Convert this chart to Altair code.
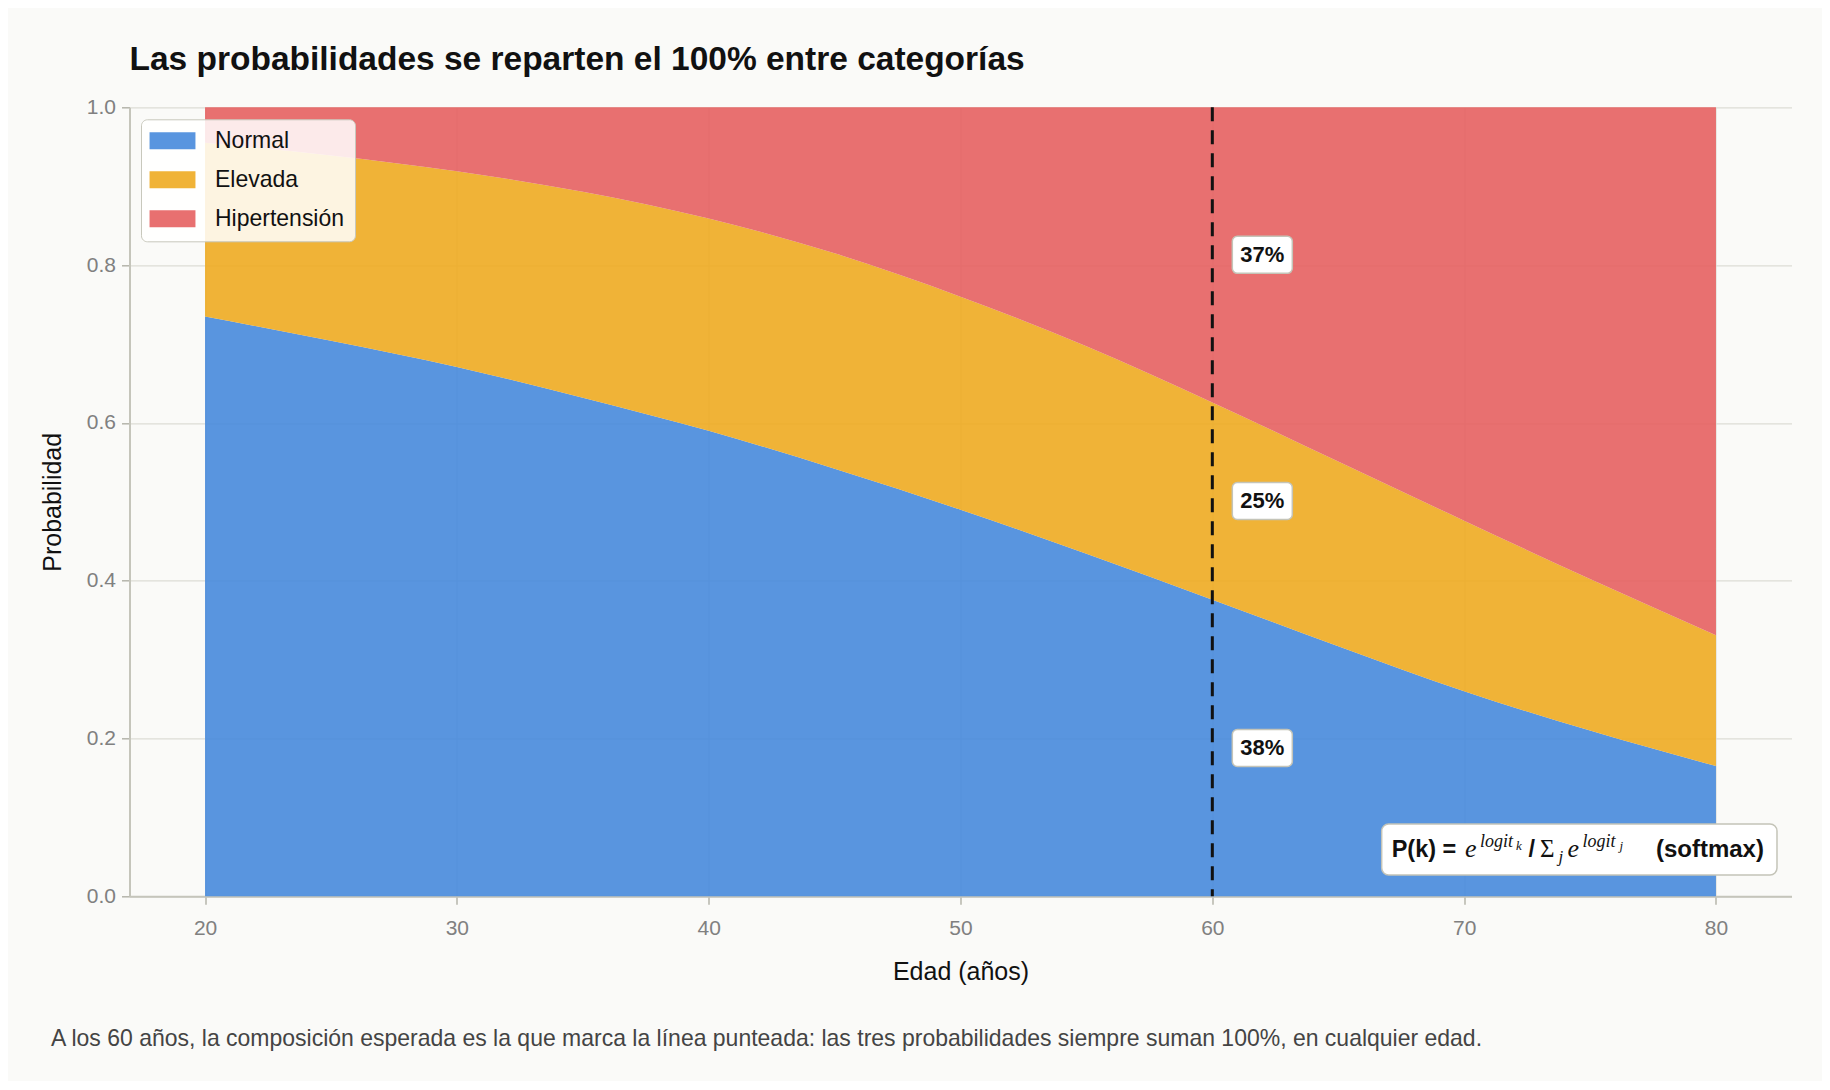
import altair as alt
import pandas as pd

# ---------------- data ----------------
edades = [20, 25, 30, 35, 40, 45, 50, 55, 60, 65, 70, 75, 80]
p_normal = [0.735, 0.704, 0.671, 0.632, 0.590, 0.542, 0.490, 0.434, 0.376, 0.317, 0.260, 0.210, 0.165]
p_elevada = [0.220, 0.235, 0.248, 0.261, 0.269, 0.273, 0.270, 0.263, 0.250, 0.234, 0.216, 0.192, 0.166]
p_hipertension = [0.045, 0.061, 0.081, 0.107, 0.141, 0.185, 0.240, 0.303, 0.374, 0.449, 0.524, 0.598, 0.669]
categorias = ["Normal", "Elevada", "Hipertensión"]
colores = ["#478adb", "#eeab21", "#e66161"]
edad_ref = 60
x_ticks = [20, 30, 40, 50, 60, 70, 80]
y_ticks = [0.0, 0.2, 0.4, 0.6, 0.8, 1.0]
titulo = "Las probabilidades se reparten el 100% entre categorías"
nota = ("A los 60 años, la composición esperada es la que marca la línea punteada: "
        "las tres probabilidades siempre suman 100%, en cualquier edad.")

# ---------------- tables ----------------
rows = []
for i, e in enumerate(edades):
    for k, (cat, serie) in enumerate(zip(categorias, [p_normal, p_elevada, p_hipertension])):
        rows.append({"edad": e, "categoria": cat, "orden": k, "prob": serie[i]})
df = pd.DataFrame(rows)

i_ref = edades.index(edad_ref)
acum = 0.0
lab_rows = []
for serie in [p_normal, p_elevada, p_hipertension]:
    v = serie[i_ref]
    lab_rows.append({"edad": edad_ref, "ymid": acum + v / 2, "texto": f"{round(v * 100)}%"})
    acum += v
lab_df = pd.DataFrame(lab_rows)

# ---------------- layout ----------------
W, H = 1662, 789
OX, OY = 129.5, 107.3   # page position of plot origin (for annotation boxes)
SANS = "Liberation Sans"
SERIF = "Liberation Serif"

xs = alt.Scale(domain=[17, 83], nice=False, zero=False)
ys = alt.Scale(domain=[0, 1], nice=False)

area = alt.Chart(df).mark_area(interpolate="monotone", opacity=0.9).encode(
    x=alt.X("edad:Q", scale=xs,
            axis=alt.Axis(values=x_ticks, title="Edad (años)", labelPadding=13, titlePadding=21)),
    y=alt.Y("prob:Q", stack="zero", scale=ys,
            axis=alt.Axis(values=y_ticks, format=".1f", title="Probabilidad",
                          labelPadding=6, titlePadding=21)),
    color=alt.Color("categoria:N", scale=alt.Scale(domain=categorias, range=colores),
                    legend=alt.Legend(title=None, orient="none", legendX=11.5, legendY=12,
                                      direction="vertical",
                                      symbolType="M-2.7,-1H2.7V1H-2.7Z", symbolSize=289,
                                      symbolOpacity=0.9, symbolStrokeWidth=0,
                                      symbolOffset=10, labelOffset=31,
                                      labelFont=SANS, labelFontSize=23, labelColor="#111111",
                                      rowPadding=15, padding=10,
                                      fillColor="rgba(255,255,255,0.85)",
                                      strokeColor="#c8c8bc", cornerRadius=6)),
    order=alt.Order("orden:Q", sort="ascending"),
)

ref_df = pd.DataFrame({"edad": [edad_ref]})
regla = alt.Chart(ref_df).mark_rule(color="#111111", strokeWidth=3, strokeDash=[14, 9]).encode(
    x=alt.X("edad:Q", scale=xs)
)

cajas = alt.Chart(lab_df).mark_rect(width=60, height=37, xOffset=50, cornerRadius=5,
                                     fill="white", stroke="#c4c4b8", strokeWidth=1.5).encode(
    x=alt.X("edad:Q", scale=xs), y=alt.Y("ymid:Q", scale=ys)
)
etiquetas = alt.Chart(lab_df).mark_text(dx=50, font=SANS, fontSize=22, fontWeight="bold",
                                        color="#111111", baseline="middle", align="center").encode(
    x=alt.X("edad:Q", scale=xs), y=alt.Y("ymid:Q", scale=ys), text="texto:N"
)

one = pd.DataFrame({"k": [0]})

def texto(t, px, py, size, font=SANS, weight="normal", style="normal", color="#111111", align="left"):
    return alt.Chart(one).mark_text(text=t, font=font, fontSize=size, fontWeight=weight,
                                   fontStyle=style, color=color, align=align,
                                   baseline="alphabetic").encode(
        x=alt.value(px - OX), y=alt.value(py - OY))

caja_formula = alt.Chart(one).mark_rect(fill="white", stroke="#c4c4b8", strokeWidth=1.5,
                                        cornerRadius=7).encode(
    x=alt.value(1381.7 - OX), x2=alt.value(1777 - OX),
    y=alt.value(824 - OY), y2=alt.value(875 - OY))

formula = [
    texto("P(k) =", 1391.7, 856.7, 23.5, weight="bold"),
    texto("e", 1465, 856.7, 26, font=SERIF, style="italic"),
    texto("logit", 1480, 846.7, 18, font=SERIF, style="italic"),
    texto("k", 1516.0, 850, 13, font=SERIF, style="italic"),
    texto("/", 1528.5, 856.7, 23.5, weight="bold"),
    texto("Σ", 1540, 856.7, 25, font=SERIF),
    texto("j", 1558.5, 861.7, 17, font=SERIF, style="italic"),
    texto("e", 1567.5, 856.7, 26, font=SERIF, style="italic"),
    texto("logit", 1582.5, 846.7, 18, font=SERIF, style="italic"),
    texto("j", 1619.5, 850, 13, font=SERIF, style="italic"),
    texto("(softmax)", 1656, 856.7, 24, weight="bold"),
]

nota_txt = alt.Chart(pd.DataFrame({"t": [nota]})).mark_text(
    font=SANS, fontSize=23, color="#444444", align="left", baseline="alphabetic").encode(
    text="t:N", x=alt.value(51 - OX), y=alt.value(1046 - OY))

chart = alt.layer(area, regla, cajas, etiquetas, caja_formula, *formula, nota_txt).properties(
    width=W, height=H,
    autosize=alt.AutoSizeParams(type="none"),
    padding={"left": 121.5, "top": 99.3, "right": 30, "bottom": 185},
    background="#fafaf8",
    title=alt.Title(titulo, anchor="start", frame="group", font=SANS, fontSize=33.5,
                    fontWeight="bold", color="#111111", offset=19),
).configure_view(stroke=None).configure_axis(
    labelFont=SANS, labelFontSize=21, labelColor="#808080",
    titleFont=SANS, titleFontSize=25, titleColor="#111111", titleFontWeight="normal",
    domainColor="#c5c5bb", domainWidth=2, tickColor="#b5b5ab", tickWidth=1.5, tickSize=8,
    gridColor="#dcdcd6", gridWidth=1.2,
)

chart.save("out.html", embed_options={"renderer": "svg", "actions": False})
